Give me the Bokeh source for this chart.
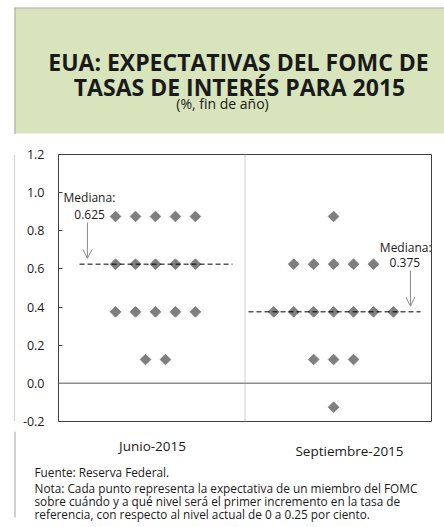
import numpy as np
from bokeh.plotting import figure
from bokeh.layouts import column, row
from bokeh.models import Range1d, FixedTicker, NumeralTickFormatter, Arrow, OpenHead, Span
from bokeh.core.properties import value
from bokeh.embed import file_html
from bokeh.resources import INLINE

# ---------------- data ----------------
title_lines = ["EUA: EXPECTATIVAS DEL FOMC DE", "TASAS DE INTERÉS PARA 2015"]
subtitle = "(%, fin de año)"
categories = ["Junio-2015", "Septiembre-2015"]
levels = [0.875, 0.625, 0.375, 0.125, -0.125]
junio_counts = [5, 5, 5, 2, 0]
septiembre_counts = [1, 5, 7, 3, 1]
medians = [0.625, 0.375]
median_texts = ["Mediana:", "0.625", "Mediana:", "0.375"]
y_ticks = [-0.2, 0.0, 0.2, 0.4, 0.6, 0.8, 1.0, 1.2]
source_text = "Fuente: Reserva Federal."
note_lines = [
    "Nota: Cada punto representa la expectativa de un miembro del FOMC",
    "sobre cuándo y a qué nivel será el primer incremento en la tasa de",
    "referencia, con respecto al nivel actual de 0 a 0.25 por ciento.",
]

# ---------------- style ----------------
FONT = "Open Sans"
DOT = "#7f7f7f"
GRAYLINE = "#a6a6a6"
GREEN = "#d8e4bc"
TXT = "#1a1a1a"
W = 444

# ---------------- header ----------------
HH = 134
h = figure(width=W, height=HH, x_range=Range1d(0, W), y_range=Range1d(HH, 0),
           min_border=0, toolbar_location=None, output_backend="svg",
           x_axis_type=None, y_axis_type=None, outline_line_color=None)
h.quad(left=[14], right=[W], top=[8], bottom=[133], fill_color=GREEN, line_color=None)
h.segment(x0=[14], y0=[7.5], x1=[W], y1=[7.5], line_color=GRAYLINE, line_width=1)
h.segment(x0=[14.5], y0=[7], x1=[14.5], y1=[HH], line_color=GRAYLINE, line_width=1)
h.text(x=[238, 239], y=[61.7, 86], text=title_lines, text_font=value(FONT),
       text_font_style="bold", text_font_size="23px", text_align="center",
       text_baseline="alphabetic", text_color=TXT)
h.text(x=[222], y=[103], text=[subtitle], text_font=value(FONT),
       text_font_size="14px", text_align="center", text_baseline="alphabetic",
       text_color=TXT)

# ---------------- left border strip ----------------
MH = 297
SW = 15
s = figure(width=SW, height=MH, x_range=Range1d(0, SW), y_range=Range1d(0, MH),
           min_border=0, toolbar_location=None, output_backend="svg",
           x_axis_type=None, y_axis_type=None, outline_line_color=None)
s.segment(x0=[14.5], y0=[0], x1=[14.5], y1=[MH], line_color=GRAYLINE, line_width=1)

# ---------------- main chart ----------------
p = figure(width=W - SW, height=MH, x_range=Range1d(0, 2), y_range=Range1d(-0.2, 1.2),
           min_border_left=43, min_border_right=13, min_border_top=20, min_border_bottom=10,
           toolbar_location=None, output_backend="svg", x_axis_type=None)
p.outline_line_color = "#404040"
p.outline_line_width = 1
p.ygrid.grid_line_color = None
ax = p.yaxis[0]
ax.ticker = FixedTicker(ticks=y_ticks)
ax.formatter = NumeralTickFormatter(format="0.0")
ax.axis_line_color = None
ax.major_tick_in = 4
ax.major_tick_out = 0
ax.major_tick_line_color = "#404040"
ax.minor_tick_line_color = None
ax.major_label_text_font = FONT
ax.major_label_text_font_size = "12.5px"
ax.major_label_text_color = TXT
ax.major_label_standoff = 14

p.add_layout(Span(location=1, dimension="height", line_color=GRAYLINE, line_width=1, line_dash="1 1"))
p.add_layout(Span(location=0, dimension="width", line_color="#8c8c8c", line_width=1.5))

centers = [0.52, 1.475]
spacing = 0.107
xs, ys = [], []
for c, counts in zip(centers, [junio_counts, septiembre_counts]):
    for lvl, n in zip(levels, counts):
        off = (np.arange(n) - (n - 1) / 2.0) * spacing
        xs.extend(list(c + off))
        ys.extend([lvl] * n)
p.scatter(x=xs, y=ys, marker="square", size=7.5, angle=np.pi / 4,
          fill_color=DOT, line_color=DOT, line_width=1)

seg_x0 = [0.113, 1.019]
seg_x1 = [0.933, 1.941]
p.segment(x0=seg_x0, y0=medians, x1=seg_x1, y1=medians, line_color="black",
          line_width=1, line_dash="5 3")

arrow_x = [0.155, 1.887]
arrow_top = [0.844, 0.592]
for ax_, yt, m in zip(arrow_x, arrow_top, medians):
    p.add_layout(Arrow(end=OpenHead(size=9, line_color="#8c8c8c", line_width=1),
                       x_start=ax_, y_start=yt, x_end=ax_, y_end=m + 0.03,
                       line_color="#8c8c8c", line_width=1))

p.text(x=[0.027, 1.723], y=[0.972, 0.714], text=[median_texts[0], median_texts[2]],
       text_font=value(FONT), text_font_size="12px", text_align="left",
       text_baseline="alphabetic", text_color=TXT)
p.text(x=[0.167, 1.857], y=[0.888, 0.635], text=[median_texts[1], median_texts[3]],
       text_font=value(FONT), text_font_size="12px", text_align="center",
       text_baseline="alphabetic", text_color=TXT)

# ---------------- footer ----------------
FH = 527 - HH - MH
f = figure(width=W, height=FH, x_range=Range1d(0, W), y_range=Range1d(FH, 0),
           min_border=0, toolbar_location=None, output_backend="svg",
           x_axis_type=None, y_axis_type=None, outline_line_color=None)
f.segment(x0=[14.5], y0=[0], x1=[14.5], y1=[86], line_color=GRAYLINE, line_width=1)
f.text(x=[152, 349], y=[14, 19], text=categories, text_font=value(FONT),
       text_font_size="13.5px", text_align="center", text_baseline="alphabetic",
       text_color=TXT)
f.text(x=[34] * 4, y=[40.7, 56, 69.3, 82.3], text=[source_text] + note_lines,
       text_font=value(FONT), text_font_size="11.8px", text_align="left",
       text_baseline="alphabetic", text_color=TXT)

layout = column(h, row(s, p, spacing=0), f, spacing=0)
open("out.html", "w").write(file_html(layout, INLINE))
